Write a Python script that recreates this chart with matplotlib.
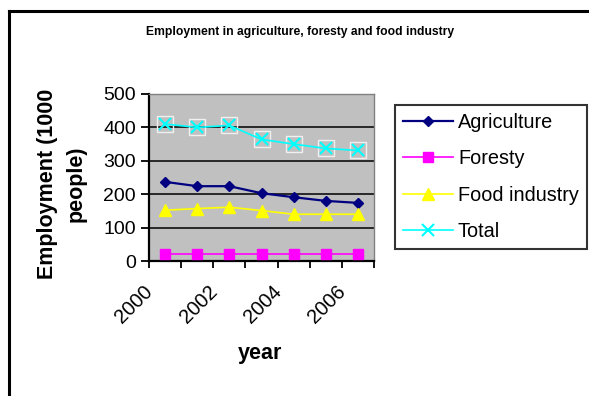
import matplotlib
matplotlib.use("Agg")
import matplotlib.pyplot as plt
from matplotlib.lines import Line2D

plt.rcParams['font.family'] = ['Liberation Sans', 'DejaVu Sans']

years = [2000, 2001, 2002, 2003, 2004, 2005, 2006]
year_labels = ["2000", "2002", "2004", "2006"]
agriculture = [237, 224, 224, 203, 191, 180, 174]
foresty = [20, 20, 20, 20, 20, 20, 20]
food_industry = [152, 157, 161, 151, 140, 140, 140]
total = [410, 400, 406, 364, 350, 337, 331]

W, H = 589, 396
fig = plt.figure(figsize=(W / 100, H / 100), dpi=100)

# outer chart border (runs off the right and bottom edges)
fig.add_artist(Line2D([9 / W, 1.0], [1 - 11 / H, 1 - 11 / H], color='black', lw=2.2,
                      transform=fig.transFigure))
fig.add_artist(Line2D([9 / W, 9 / W], [1 - 11 / H, 0.0], color='black', lw=2.2,
                      transform=fig.transFigure))

left, right, top, bottom = 149, 374, 94, 261
ax = fig.add_axes([left / W, 1 - bottom / H, (right - left) / W, (bottom - top) / H])
ax.set_facecolor('#c0c0c0')

x = list(range(len(years)))

ax.plot(x, agriculture, color='#000080', lw=1.6, marker='D', ms=5.5,
        mfc='#000080', mec='#000080', label='Agriculture', zorder=4)
ax.plot(x, foresty, color='#ff00ff', lw=1.2, marker='s', ms=7,
        mfc='#ff00ff', mec='#ff00ff', label='Foresty', zorder=4)
ax.plot(x, food_industry, color='#ffff00', lw=1.2, marker='^', ms=8.5,
        mfc='#ffff00', mec='#ffff00', label='Food industry', zorder=4)
ax.plot(x, total, color='#00ffff', lw=1.2, ls='none', marker='s', ms=12,
        mfc='none', mec='#f0f0f0', mew=1.0, zorder=4)
ax.plot(x, total, color='#00ffff', lw=1.2, marker='x', ms=9, mew=1.5,
        label='Total', zorder=5)

ax.set_xlim(-0.5, len(years) - 0.5)
ax.set_ylim(0, 500)
ax.set_yticks([0, 100, 200, 300, 400, 500])
ax.yaxis.grid(True, color='black', lw=1.1)
ax.set_axisbelow(True)

# category boundaries carry the tick marks; labels sit on every other year
ax.set_xticks([i - 0.5 for i in range(len(years) + 1)])
ax.set_xticklabels([])
ax.tick_params(axis='x', which='major', length=5, width=1.3, direction='out', color='black')
ax.tick_params(axis='y', which='major', length=6, width=1.3, direction='out', color='black',
               labelsize=14, pad=3.5)

label_pos = [x[years.index(int(s))] for s in year_labels]
for p, s in zip(label_pos, year_labels):
    ax.annotate(s, xy=(p, 0), xycoords=('data', 'axes fraction'),
                xytext=(-11, -20), textcoords='offset points',
                rotation=45, rotation_mode='anchor', ha='right', va='center',
                fontsize=14.5)

for side in ('left', 'bottom'):
    ax.spines[side].set_color('black')
    ax.spines[side].set_linewidth(1.6)
for side in ('top', 'right'):
    ax.spines[side].set_color('#808080')
    ax.spines[side].set_linewidth(1.0)

fig.text(300 / W, 1 - 32 / H, 'Employment in agriculture, foresty and food industry',
         ha='center', va='center', fontsize=8.75, fontweight='bold')
fig.text(62 / W, 1 - 184 / H, 'Employment (1000\npeople)', rotation=90,
         ha='center', va='center', fontsize=15.5, fontweight='bold',
         multialignment='center', linespacing=1.5)
fig.text(260 / W, 1 - 353 / H, 'year', ha='center', va='center',
         fontsize=15.5, fontweight='bold')

leg = fig.legend(loc='upper left', bbox_to_anchor=(395 / W, 1 - 105 / H),
                 fontsize=14.3, frameon=True, fancybox=False, handlelength=2.5,
                 handletextpad=0.25, labelspacing=0.86, borderpad=0.42,
                 borderaxespad=0)
leg.get_frame().set_edgecolor('black')
leg.get_frame().set_linewidth(1.5)

fig.savefig('out.png', dpi=100)
